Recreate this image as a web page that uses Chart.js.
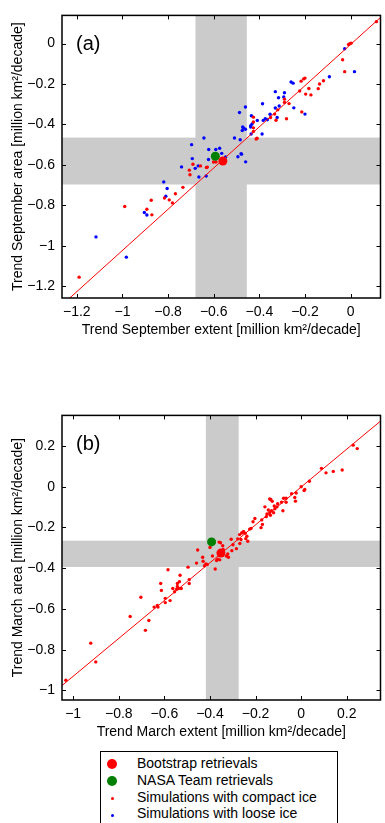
<!DOCTYPE html>
<html><head><meta charset="utf-8">
<script src="https://cdn.jsdelivr.net/npm/chart.js@4"></script>
<style>
html,body{margin:0;padding:0;background:#fff;width:385px;height:823px;overflow:hidden;font-family:'Liberation Sans',Arial,sans-serif;}
canvas{position:absolute;left:0;}
#ca{top:0;}
#cb{top:400px;}
#legend{position:absolute;left:100px;top:751px;width:236px;height:90px;border:1px solid #000;background:#fff;}
.row{position:absolute;left:36px;font-size:14px;line-height:17px;color:#000;white-space:nowrap;}
.mk{position:absolute;border-radius:50%;}
</style></head><body>
<canvas id="ca" width="385" height="343"></canvas>
<canvas id="cb" width="385" height="345"></canvas>
<div id="legend">
  <div class="mk" style="left:6px;top:7px;width:10px;height:10px;background:#ff0000;"></div>
  <div class="row" style="top:3px;">Bootstrap retrievals</div>
  <div class="mk" style="left:6px;top:24px;width:10px;height:10px;background:#008000;"></div>
  <div class="row" style="top:20px;">NASA Team retrievals</div>
  <div class="mk" style="left:10px;top:45px;width:3px;height:3px;background:#ff0000;"></div>
  <div class="row" style="top:37px;">Simulations with compact ice</div>
  <div class="mk" style="left:10px;top:62px;width:3px;height:3px;background:#0000ff;"></div>
  <div class="row" style="top:53px;">Simulations with loose ice</div>
</div>
<script>
// ---------- DATA ----------
// Panel (a): September
const ticksA = [-1.2, -1, -0.8, -0.6, -0.4, -0.2, 0];
const bandXA = [-0.68, -0.455];   // extent uncertainty band
const bandYA = [-0.697, -0.465];  // area uncertainty band
const bootstrapA = [[-0.56, -0.581]];
const nasaTeamA = [[-0.593, -0.557]];
const fitLineA = [[-1.231, -1.258], [0.131, 0.129]];
const compactA = [
 [0.113,0.108],[-0.009,-0.005],[-0.003,-0.001],[0.003,0.002],[-0.035,-0.08],[-0.026,-0.139],
 [-0.217,-0.186],[-0.206,-0.175],[-0.2,-0.171],[-0.119,-0.184],[-0.136,-0.2],[-0.142,-0.223],
 [-0.183,-0.222],[-0.197,-0.25],[-0.174,-0.254],[-0.223,-0.235],[-0.29,-0.275],[-0.29,-0.291],
 [-0.27,-0.297],[-0.319,-0.328],[-0.214,-0.338],[-0.333,-0.349],[-0.351,-0.366],[-0.327,-0.379],
 [-0.281,-0.372],[-0.426,-0.364],[-0.426,-0.388],[-0.426,-0.417],[-0.426,-0.435],[-0.414,-0.472],
 [-0.41,-0.468],[-0.691,-0.597],[-0.658,-0.605],[-0.707,-0.626],[-0.704,-0.649],[-0.632,-0.613],
 [-0.628,-0.611],[-0.601,-0.586],[-0.59,-0.586],[-0.735,-0.711],[-0.816,-0.764],[-0.768,-0.743],
 [-0.795,-0.773],[-0.781,-0.788],[-0.874,-0.775],[-0.99,-0.806],[-0.893,-0.819],[-0.871,-0.847],
 [-1.19,-1.155]
];
const looseA = [
 [-0.026,-0.026],[-0.093,-0.164],[0.017,-0.139],[-0.261,-0.19],[-0.252,-0.196],[-0.33,-0.238],
 [-0.29,-0.243],[-0.316,-0.268],[-0.293,-0.264],[-0.386,-0.298],[-0.313,-0.309],[-0.33,-0.319],
 [-0.249,-0.318],[-0.2,-0.349],[-0.353,-0.35],[-0.322,-0.366],[-0.374,-0.372],[-0.365,-0.377],
 [-0.383,-0.38],[-0.409,-0.38],[-0.461,-0.314],[-0.487,-0.341],[-0.435,-0.357],[-0.432,-0.398],
 [-0.438,-0.406],[-0.473,-0.413],[-0.438,-0.413],[-0.475,-0.43],[-0.47,-0.417],[-0.461,-0.424],
 [-0.436,-0.447],[-0.388,-0.447],[-0.484,-0.476],[-0.509,-0.467],[-0.643,-0.467],[-0.697,-0.5],
 [-0.622,-0.524],[-0.591,-0.524],[-0.574,-0.518],[-0.48,-0.545],[-0.565,-0.543],[-0.548,-0.561],
 [-0.494,-0.56],[-0.478,-0.547],[-0.46,-0.585],[-0.694,-0.569],[-0.741,-0.61],[-0.668,-0.605],
 [-0.681,-0.617],[-0.665,-0.66],[-0.633,-0.655],[-0.623,-0.573],[-0.819,-0.684],[-0.804,-0.717],
 [-0.81,-0.755],[-0.904,-0.835],[-0.893,-0.848],[-1.116,-0.956],[-0.983,-1.056]
];
// Panel (b): March
const ticksXB = [-1, -0.8, -0.6, -0.4, -0.2, 0, 0.2];
const ticksYB = [-1, -0.8, -0.6, -0.4, -0.2, 0, 0.2];
const bandXB = [-0.418, -0.274];
const bandYB = [-0.394, -0.265];
const bootstrapB = [[-0.352, -0.326]];
const nasaTeamB = [[-0.393, -0.271]];
const fitLineB = [[-1.049, -0.976], [0.348, 0.322]];
const compactB = [
 [0.228,0.204],[0.246,0.187],[0.089,0.09],[0.109,0.068],[0.141,0.075],[0.18,0.082],[0.036,0.027],
 [0.016,-0.014],[0.013,-0.019],[0,0],[-0.042,-0.034],[-0.022,-0.031],[-0.028,-0.053],[-0.025,-0.071],
 [-0.077,-0.057],[-0.066,-0.057],[-0.086,-0.076],[-0.066,-0.076],[-0.08,-0.118],[-0.103,-0.084],
 [-0.118,-0.095],[-0.106,-0.099],[-0.127,-0.072],[-0.133,-0.063],[-0.138,-0.06],[-0.159,-0.099],
 [-0.144,-0.114],[-0.13,-0.118],[-0.138,-0.128],[-0.15,-0.134],[-0.135,-0.14],[-0.121,-0.128],
 [-0.115,-0.108],[-0.153,-0.147],[-0.173,-0.163],[-0.203,-0.156],[-0.211,-0.172],[-0.17,-0.185],
 [-0.176,-0.201],[-0.226,-0.208],[-0.22,-0.205],[-0.255,-0.222],[-0.261,-0.227],[-0.238,-0.243],
 [-0.27,-0.235],[-0.252,-0.221],[-0.246,-0.229],[-0.234,-0.268],[-0.243,-0.255],[-0.264,-0.259],
 [-0.278,-0.256],[-0.269,-0.279],[-0.307,-0.258],[-0.284,-0.304],[-0.299,-0.285],[-0.304,-0.314],
 [-0.322,-0.33],[-0.319,-0.346],[-0.328,-0.34],[-0.342,-0.308],[-0.36,-0.272],[-0.354,-0.275],
 [-0.344,-0.29],[-0.371,-0.362],[-0.366,-0.356],[-0.357,-0.359],[-0.377,-0.404],[-0.4,-0.298],
 [-0.454,-0.311],[-0.389,-0.34],[-0.432,-0.346],[-0.43,-0.366],[-0.418,-0.379],[-0.424,-0.388],
 [-0.412,-0.382],[-0.459,-0.375],[-0.496,-0.395],[-0.584,-0.408],[-0.531,-0.435],[-0.534,-0.466],
 [-0.491,-0.456],[-0.491,-0.475],[-0.543,-0.475],[-0.616,-0.475],[-0.613,-0.509],[-0.703,-0.543],
 [-0.563,-0.5],[-0.543,-0.49],[-0.537,-0.5],[-0.526,-0.5],[-0.546,-0.503],[-0.555,-0.516],
 [-0.575,-0.559],[-0.596,-0.548],[-0.596,-0.569],[-0.631,-0.583],[-0.628,-0.591],[-0.645,-0.591],
 [-0.75,-0.637],[-0.668,-0.657],[-0.683,-0.705],[-0.923,-0.768],[-0.901,-0.86],[-1.032,-0.95]
];
const looseB = [];

// ---------- HELPERS ----------
const FONT = "'Liberation Sans', Arial, sans-serif";
const pts = arr => arr.map(p => ({x: p[0], y: p[1]}));
const fmt = v => { const s = (Math.round(v*10)/10).toString(); return s.replace('-', '\u2212'); };

const framePlugin = {
  id: 'frame',
  beforeDatasetsDraw(chart, args, opts) {
    const {ctx, chartArea: a, scales: {x, y}} = chart;
    ctx.save();
    ctx.beginPath(); ctx.rect(a.left, a.top, a.right - a.left, a.bottom - a.top); ctx.clip();
    ctx.fillStyle = '#cbcbcb';
    const x0 = x.getPixelForValue(opts.bandX[0]), x1 = x.getPixelForValue(opts.bandX[1]);
    const y0 = y.getPixelForValue(opts.bandY[1]), y1 = y.getPixelForValue(opts.bandY[0]);
    ctx.fillRect(x0, a.top, x1 - x0, a.bottom - a.top);
    ctx.fillRect(a.left, y0, a.right - a.left, y1 - y0);
    ctx.restore();
  },
  afterDraw(chart, args, opts) {
    const {ctx, chartArea: a, scales: {x, y}} = chart;
    ctx.save();
    ctx.strokeStyle = '#000'; ctx.lineWidth = 1;
    const L = 4;
    ctx.beginPath();
    x.ticks.forEach(t => { const p = Math.round(x.getPixelForValue(t.value)) + 0.5;
      ctx.moveTo(p, a.bottom); ctx.lineTo(p, a.bottom - L); ctx.moveTo(p, a.top); ctx.lineTo(p, a.top + L); });
    y.ticks.forEach(t => { const p = Math.round(y.getPixelForValue(t.value)) + 0.5;
      ctx.moveTo(a.left, p); ctx.lineTo(a.left + L, p); ctx.moveTo(a.right, p); ctx.lineTo(a.right - L, p); });
    ctx.stroke();
    ctx.lineWidth = 1.5;
    ctx.strokeRect(a.left, a.top, a.right - a.left, a.bottom - a.top);
    ctx.fillStyle = '#000';
    ctx.font = '20px ' + FONT;
    ctx.textBaseline = 'middle'; ctx.textAlign = 'left';
    ctx.fillText(opts.label, a.left + 14, a.top + 29);
    ctx.restore();
  }
};

function makeChart(id, cfg) {
  const fixTicks = vals => function(scale) { scale.ticks = vals.map(v => ({value: v})); };
  return new Chart(document.getElementById(id), {
    data: {
      datasets: [
        {type: 'scatter', label: 'Bootstrap retrievals', data: pts(cfg.boot), backgroundColor: '#ff0000', borderWidth: 0, pointRadius: 4.5, order: 0},
        {type: 'scatter', label: 'NASA Team retrievals', data: pts(cfg.nasa), backgroundColor: '#008000', borderWidth: 0, pointRadius: 4.5, order: 0},
        {type: 'line', label: 'fit', data: pts(cfg.line), borderColor: '#ff0000', borderWidth: 1, pointRadius: 0, fill: false, order: 1},
        {type: 'scatter', label: 'Simulations with compact ice', data: pts(cfg.compact), backgroundColor: '#ff0000', borderWidth: 0, pointRadius: 1.7, order: 2},
        {type: 'scatter', label: 'Simulations with loose ice', data: pts(cfg.loose), backgroundColor: '#0000ff', borderWidth: 0, pointRadius: 1.7, order: 3}
      ]
    },
    options: {
      responsive: false, animation: false, devicePixelRatio: 1,
      layout: {padding: {left: 0, right: 2, top: cfg.padTop, bottom: 0}},
      plugins: {legend: {display: false}, tooltip: {enabled: false}, frame: {bandX: cfg.bandX, bandY: cfg.bandY, label: cfg.label}},
      scales: {
        x: {type: 'linear', position: 'bottom', min: cfg.xr[0], max: cfg.xr[1],
            afterBuildTicks: fixTicks(cfg.xt),
            afterFit(s) { s.height = cfg.xH; },
            grid: {display: false, drawTicks: false},
            border: {display: false},
            ticks: {callback: fmt, color: '#000', padding: 6, maxRotation: 0, autoSkip: false, font: {family: FONT, size: 14}},
            title: {display: true, text: cfg.xTitle, color: '#000', font: {family: FONT, size: 14}, padding: {top: 2, bottom: 4}}},
        y: {type: 'linear', position: 'left', min: cfg.yr[0], max: cfg.yr[1],
            afterBuildTicks: fixTicks(cfg.yt),
            afterFit(s) { s.width = 62; },
            grid: {display: false, drawTicks: false},
            border: {display: false},
            ticks: {callback: fmt, color: '#000', padding: 7, autoSkip: false, font: {family: FONT, size: 14}},
            title: {display: true, text: cfg.yTitle, color: '#000', font: {family: FONT, size: 14}, padding: {top: 10, bottom: 0}}}
      }
    },
    plugins: [framePlugin]
  });
}

makeChart('ca', {
  boot: bootstrapA, nasa: nasaTeamA, line: fitLineA, compact: compactA, loose: looseA,
  bandX: bandXA, bandY: bandYA, label: '(a)', padTop: 9, xH: 45,
  xr: [-1.265, 0.131], yr: [-1.258, 0.139], xt: ticksA, yt: ticksA,
  xTitle: 'Trend September extent [million km\u00b2/decade]',
  yTitle: 'Trend September area [million km\u00b2/decade]'
});
makeChart('cb', {
  boot: bootstrapB, nasa: nasaTeamB, line: fitLineB, compact: compactB, loose: looseB,
  bandX: bandXB, bandY: bandYB, label: '(b)', padTop: 11, xH: 45,
  xr: [-1.049, 0.348], yr: [-1.047, 0.35], xt: ticksXB, yt: ticksYB,
  xTitle: 'Trend March extent [million km\u00b2/decade]',
  yTitle: 'Trend March area [million km\u00b2/decade]'
});
</script>
</body></html>
